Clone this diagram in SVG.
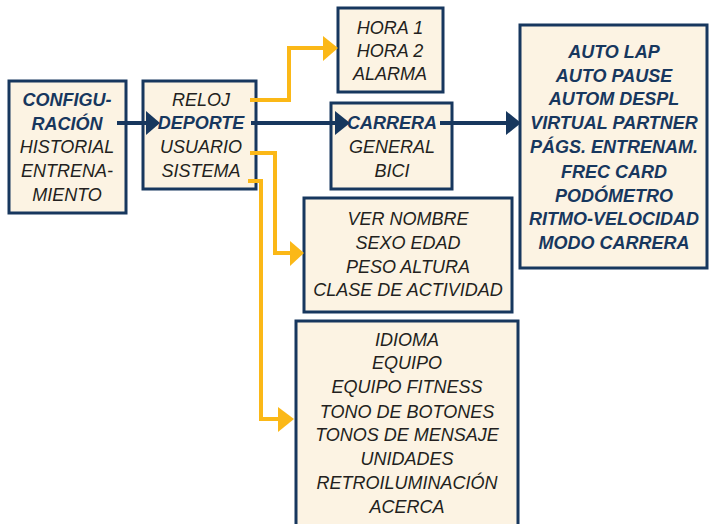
<svg xmlns="http://www.w3.org/2000/svg" width="709" height="524" viewBox="0 0 709 524">
<defs>
<style>
.box{fill:#fcf3e3;stroke:#17375e;stroke-width:3}
.t{font-family:"Liberation Sans",Arial,sans-serif;font-size:18px;font-style:italic;fill:#231f20;text-anchor:middle}
.b{font-weight:bold;fill:#17375e}
.nv{fill:none;stroke:#17375e;stroke-width:4}
.yl{fill:none;stroke:#fbb817;stroke-width:4}
.nvh{fill:#17375e}
.ylh{fill:#fbb817}
</style>
</defs>
<rect width="709" height="524" fill="#ffffff"/>
<g id="config">
<rect class="box" x="9" y="81" width="117" height="132"/>
<text class="t b" x="67" y="106">CONFIGU-</text>
<text class="t b" x="67" y="130">RACIÓN</text>
<text class="t" x="67" y="153">HISTORIAL</text>
<text class="t" x="67" y="177">ENTRENA-</text>
<text class="t" x="67" y="201">MIENTO</text>
</g>
<g id="menu">
<rect class="box" x="143" y="81" width="113" height="108"/>
<text class="t" x="201" y="106">RELOJ</text>
<text class="t b" x="201" y="129">DEPORTE</text>
<text class="t" x="201" y="153">USUARIO</text>
<text class="t" x="201" y="177">SISTEMA</text>
</g>
<g id="reloj">
<rect class="box" x="338" y="8" width="105" height="84"/>
<text class="t" x="390" y="34">HORA 1</text>
<text class="t" x="390" y="57">HORA 2</text>
<text class="t" x="390" y="80">ALARMA</text>
</g>
<g id="deporte">
<rect class="box" x="331" y="103" width="121" height="86"/>
<text class="t b" x="392" y="129">CARRERA</text>
<text class="t" x="392" y="153">GENERAL</text>
<text class="t" x="392" y="177">BICI</text>
</g>
<g id="carrera">
<rect class="box" x="520" y="25" width="187" height="243"/>
<text class="t b" x="614" y="58">AUTO LAP</text>
<text class="t b" x="614" y="82">AUTO PAUSE</text>
<text class="t b" x="614" y="105">AUTOM DESPL</text>
<text class="t b" x="614" y="129">VIRTUAL PARTNER</text>
<text class="t b" x="614" y="153">PÁGS. ENTRENAM.</text>
<text class="t b" x="614" y="178">FREC CARD</text>
<text class="t b" x="614" y="202">PODÓMETRO</text>
<text class="t b" x="614" y="225">RITMO-VELOCIDAD</text>
<text class="t b" x="614" y="249">MODO CARRERA</text>
</g>
<g id="usuario">
<rect class="box" x="304" y="198" width="208" height="114"/>
<text class="t" x="408" y="225">VER NOMBRE</text>
<text class="t" x="408" y="249">SEXO EDAD</text>
<text class="t" x="408" y="273">PESO ALTURA</text>
<text class="t" x="408" y="296">CLASE DE ACTIVIDAD</text>
</g>
<g id="sistema">
<rect class="box" x="296" y="321" width="222" height="210"/>
<text class="t" x="407" y="346">IDIOMA</text>
<text class="t" x="407" y="369">EQUIPO</text>
<text class="t" x="407" y="393">EQUIPO FITNESS</text>
<text class="t" x="407" y="418">TONO DE BOTONES</text>
<text class="t" x="407" y="441">TONOS DE MENSAJE</text>
<text class="t" x="407" y="465">UNIDADES</text>
<text class="t" x="407" y="489">RETROILUMINACIÓN</text>
<text class="t" x="407" y="513">ACERCA</text>
</g>
<g id="connectors">
<path class="nv" d="M117 123H147"/>
<path class="nvh" d="M146 111L160 123L146 135Z"/>
<path class="nv" d="M251 123H337"/>
<path class="nvh" d="M335 111L350 123L335 135Z"/>
<path class="nv" d="M440 123H508"/>
<path class="nvh" d="M506 111L521 123L506 135Z"/>
<path class="yl" d="M250 100H289V48H325"/>
<path class="ylh" d="M323 36L338 48L323 61Z"/>
<path class="yl" d="M250 153H275V253H292"/>
<path class="ylh" d="M290 241L304 253L290 266Z"/>
<path class="yl" d="M248 181H261V419H280"/>
<path class="ylh" d="M278 407L294 419L278 432Z"/>
</g>
</svg>
